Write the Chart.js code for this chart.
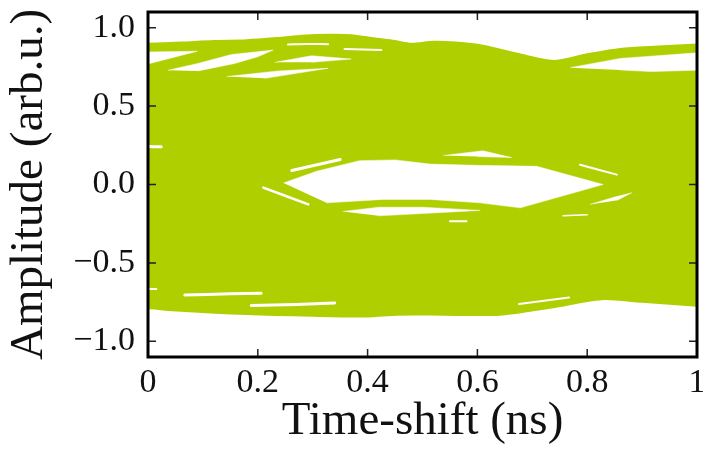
<!DOCTYPE html>
<html>
<head>
<meta charset="utf-8">
<script src="https://cdn.jsdelivr.net/npm/chart.js@4.4.1/dist/chart.umd.min.js"></script>
<style>
  html, body { margin: 0; padding: 0; background: #fff; }
  #wrap { width: 703px; height: 450px; }
</style>
</head>
<body>
<div id="wrap"><canvas id="eye"></canvas></div>
<script>
// axis ticks
const xTicks = [0, 0.2, 0.4, 0.6, 0.8, 1];
const yTicks = [-1, -0.5, 0, 0.5, 1];

// outer envelope of all traces (time in ns, amplitude)
const topT = [0, 0.06, 0.12, 0.18, 0.24, 0.28, 0.33, 0.37, 0.41, 0.45, 0.48, 0.52, 0.56, 0.61, 0.68, 0.738, 0.80, 0.86, 0.93, 1];
const topA = [0.897, 0.905, 0.915, 0.92, 0.935, 0.948, 0.955, 0.952, 0.932, 0.915, 0.898, 0.91, 0.905, 0.885, 0.828, 0.788, 0.83, 0.864, 0.88, 0.893];
const botT = [0, 0.06, 0.18, 0.30, 0.40, 0.455, 0.54, 0.64, 0.735, 0.826, 0.90, 1];
const botA = [-0.788, -0.805, -0.826, -0.837, -0.841, -0.83, -0.83, -0.83, -0.784, -0.731, -0.748, -0.773];

// central eye opening (upper edge left->right, then lower edge right->left)
const eyeT = [0.247, 0.307, 0.385, 0.45, 0.514, 0.60, 0.708, 0.829, 0.678, 0.605, 0.514, 0.429, 0.325];
const eyeA = [0.01, 0.084, 0.152, 0.157, 0.13, 0.122, 0.116, 0.0, -0.149, -0.117, -0.095, -0.095, -0.117];

// wider open gaps between traces
const gapT = [
  [-0.01, 0.09, -0.01],
  [0.036, 0.091, 0.152, 0.228, 0.20, 0.158, 0.091],
  [0.231, 0.298, 0.37, 0.298],
  [0.143, 0.237, 0.328, 0.213],
  [0.769, 0.86, 1.01, 1.01, 0.917, 0.86],
  [0.355, 0.42, 0.50, 0.605, 0.50, 0.42],
  [0.538, 0.61, 0.662, 0.60],
  [0.805, 0.85, 0.881, 0.855]
];
const gapA = [
  [0.845, 0.85, 0.76],
  [0.728, 0.772, 0.829, 0.857, 0.815, 0.772, 0.724],
  [0.779, 0.821, 0.80, 0.779],
  [0.688, 0.724, 0.741, 0.677],
  [0.745, 0.804, 0.842, 0.73, 0.72, 0.73],
  [-0.172, -0.145, -0.145, -0.165, -0.185, -0.20],
  [0.185, 0.215, 0.172, 0.178],
  [-0.127, -0.08, -0.053, -0.10]
];

// narrow slits between traces
const slitT = [
  [0.255, 0.29, 0.328],
  [0.358, 0.425],
  [0.262, 0.35],
  [0.21, 0.292],
  [0.787, 0.854],
  [0.55, 0.58],
  [0.756, 0.80],
  [0.067, 0.15, 0.206],
  [0.188, 0.27, 0.34],
  [0.676, 0.767],
  [0.0, 0.024],
  [0.0, 0.015]
];
const slitA = [
  [0.893, 0.896, 0.895],
  [0.864, 0.857],
  [0.089, 0.159],
  [-0.02, -0.127],
  [0.126, 0.063],
  [-0.235, -0.235],
  [-0.2, -0.193],
  [-0.705, -0.697, -0.693],
  [-0.772, -0.765, -0.755],
  [-0.762, -0.72],
  [0.243, 0.24],
  [-0.665, -0.667]
];
const slitWidth = [2, 2, 3, 2.5, 2, 2, 1.5, 3, 3, 2, 3, 2];

const GREEN = '#b0cf00';
const FONT = "'Liberation Serif', 'DejaVu Serif', serif";

const pts = (ts, ys) => ts.map((t, i) => ({ x: t, y: ys[i] }));

const datasets = [];
// envelope: upper edge filled down to the lower edge (next dataset)
datasets.push({
  data: pts(topT, topA),
  borderColor: GREEN,
  borderWidth: 2,
  backgroundColor: GREEN,
  pointRadius: 0,
  fill: '+1',
  tension: 0.3,
  order: 3
});
datasets.push({
  data: pts(botT, botA),
  borderColor: GREEN,
  borderWidth: 2,
  pointRadius: 0,
  fill: false,
  tension: 0.3,
  order: 3
});
datasets.push({
  data: pts(eyeT, eyeA),
  borderColor: '#fff',
  borderWidth: 0.5,
  backgroundColor: '#fff',
  pointRadius: 0,
  fill: 'shape',
  tension: 0,
  order: 2
});
gapT.forEach((ts, i) => {
  datasets.push({
    data: pts(ts, gapA[i]),
    borderColor: '#fff',
    borderWidth: 0.5,
    backgroundColor: '#fff',
    pointRadius: 0,
    fill: 'shape',
    tension: 0,
    order: 2
  });
});
slitT.forEach((ts, i) => {
  datasets.push({
    data: pts(ts, slitA[i]),
    borderColor: '#fff',
    borderWidth: slitWidth[i],
    borderCapStyle: 'round',
    pointRadius: 0,
    fill: false,
    tension: 0.3,
    order: 1
  });
});

// thick black frame with inward tick marks on all four sides
const framePlugin = {
  id: 'frame',
  afterDraw(chart) {
    const { ctx, chartArea: a, scales } = chart;
    ctx.save();
    ctx.strokeStyle = '#222';
    ctx.lineWidth = 1.5;
    ctx.beginPath();
    xTicks.forEach(v => {
      const px = scales.x.getPixelForValue(v);
      ctx.moveTo(px, a.bottom); ctx.lineTo(px, a.bottom - 8);
      ctx.moveTo(px, a.top); ctx.lineTo(px, a.top + 8);
    });
    yTicks.forEach(v => {
      const py = scales.y.getPixelForValue(v);
      ctx.moveTo(a.left, py); ctx.lineTo(a.left + 8, py);
      ctx.moveTo(a.right, py); ctx.lineTo(a.right - 8, py);
    });
    ctx.stroke();
    ctx.strokeStyle = '#000';
    ctx.lineWidth = 3;
    ctx.strokeRect(a.left, a.top, a.right - a.left, a.bottom - a.top);
    ctx.restore();
  }
};

new Chart(document.getElementById('eye'), {
  type: 'line',
  data: { datasets },
  options: {
    responsive: true,
    maintainAspectRatio: false,
    animation: false,
    events: [],
    layout: { padding: { top: 12, right: 6, left: 0, bottom: 0 } },
    plugins: { legend: { display: false }, tooltip: { enabled: false } },
    scales: {
      x: {
        type: 'linear',
        min: 0,
        max: 1,
        grid: { display: false, drawTicks: false },
        border: { display: false },
        afterBuildTicks: s => { s.ticks = xTicks.map(v => ({ value: v })); },
        afterFit: s => { s.height = 93; s.paddingLeft = 0; s.paddingRight = 0; },
        ticks: {
          padding: 6,
          maxRotation: 0,
          color: '#111',
          font: { family: FONT, size: 34 },
          callback: v => (v === 0 || v === 1) ? String(v) : v.toFixed(1)
        },
        title: {
          display: true,
          text: 'Time-shift (ns)',
          color: '#111',
          font: { family: FONT, size: 47 },
          padding: { top: 0, bottom: 0 }
        }
      },
      y: {
        type: 'linear',
        min: -1.1,
        max: 1.1,
        grid: { display: false, drawTicks: false },
        border: { display: false },
        afterBuildTicks: s => { s.ticks = yTicks.map(v => ({ value: v })); },
        afterFit: s => { s.width = 148; s.paddingTop = 0; s.paddingBottom = 0; },
        ticks: {
          padding: 13,
          color: '#111',
          font: { family: FONT, size: 34 },
          callback: v => v.toFixed(1).replace('-', '\u2212')
        },
        title: {
          display: true,
          text: 'Amplitude (arb.u.)',
          color: '#111',
          font: { family: FONT, size: 47 },
          padding: { top: 1, bottom: 0 }
        }
      }
    }
  },
  plugins: [framePlugin]
});
</script>
</body>
</html>
